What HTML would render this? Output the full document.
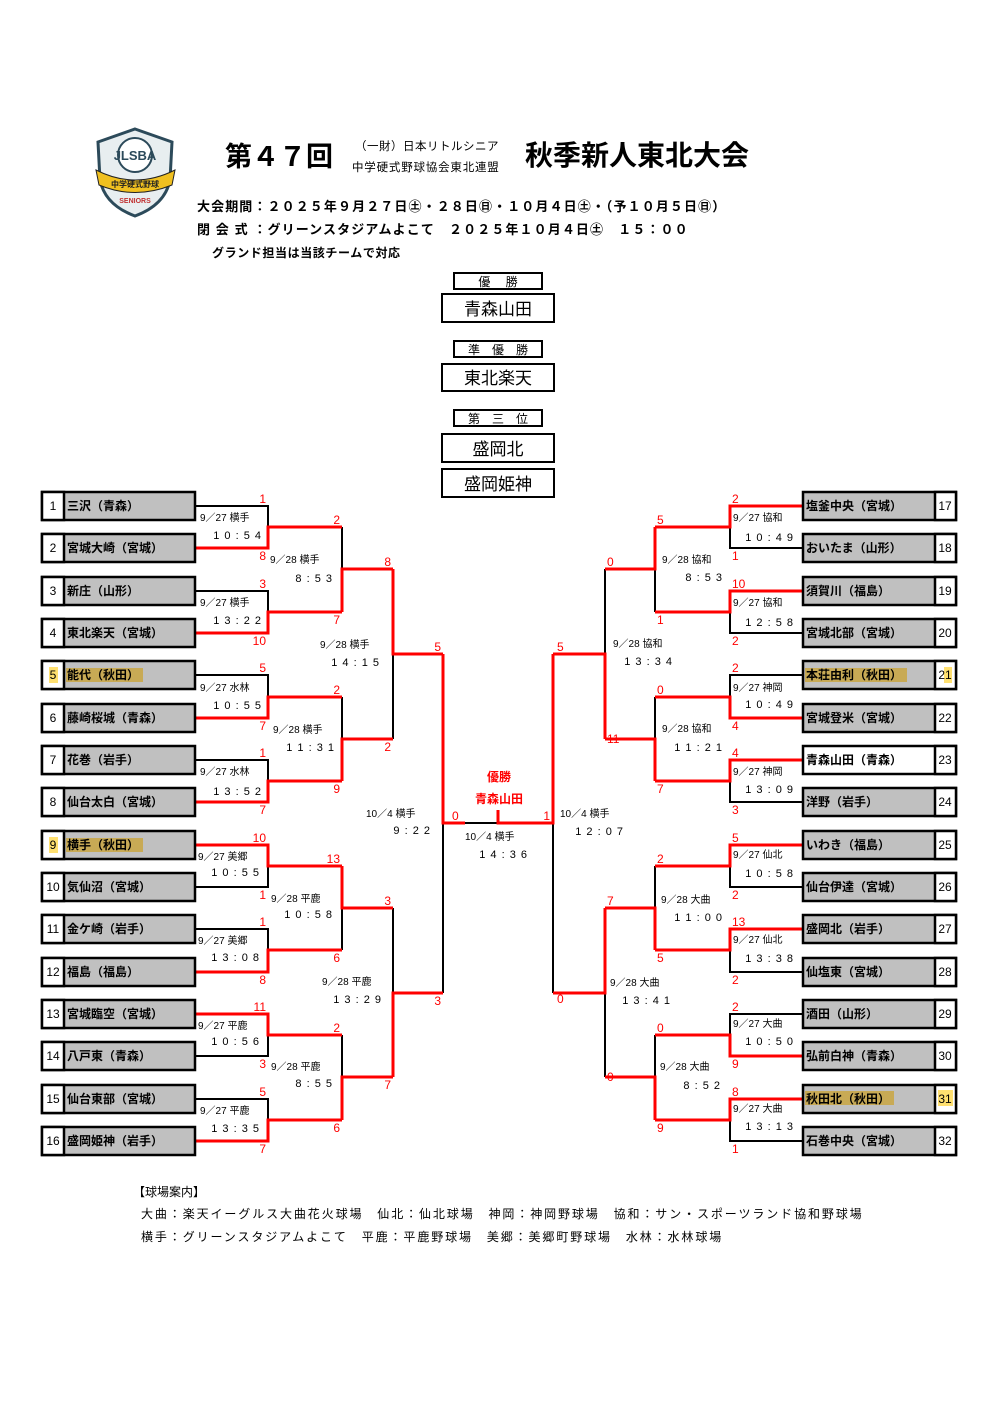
<!DOCTYPE html>
<html><head><meta charset="utf-8">
<style>
html,body{margin:0;padding:0;background:#fff;}
svg{display:block;}
text{font-family:"Liberation Sans","Noto Sans CJK JP",sans-serif;}
.tn{font-size:12px;font-weight:bold;fill:#000;}
.nm{font-size:12px;fill:#000;}
.sc{font-size:12px;fill:#ff0000;}
.dt{font-size:10px;fill:#000;}
.tm{font-size:11px;fill:#000;letter-spacing:1px;}
.bk{fill:none;stroke:#000;stroke-width:2;}
.rd{fill:none;stroke:#ff0000;stroke-width:3;}
</style></head><body>
<svg width="1000" height="1413" viewBox="0 0 1000 1413" xmlns="http://www.w3.org/2000/svg">
<rect width="1000" height="1413" fill="#fff"/>
<!-- logo -->
<g>
<path d="M135 129 L172 142 L170 180 Q165 205 135 216 Q105 205 100 180 L98 142 Z" fill="#e8eef0" stroke="#2c4a5a" stroke-width="3"/>
<circle cx="135" cy="155" r="17" fill="#fff" stroke="#2c4a5a" stroke-width="2"/>
<text x="135" y="160" font-size="13" font-weight="bold" text-anchor="middle" fill="#2c4a5a">JLSBA</text>
<path d="M96 170 Q135 190 175 170 L172 185 Q135 200 99 185 Z" fill="#f0c020" stroke="#222" stroke-width="1"/>
<text x="135" y="187" font-size="8" font-weight="bold" text-anchor="middle" fill="#222">中学硬式野球</text>
<text x="135" y="203" font-size="7" font-weight="bold" text-anchor="middle" fill="#c03030">SENIORS</text>
</g>
<text x="225" y="166" font-size="27" font-weight="bold">第４７回</text>
<text x="355" y="150" font-size="11.5" letter-spacing="0.5">（一財）日本リトルシニア</text>
<text x="352" y="171" font-size="11.5" letter-spacing="0.8">中学硬式野球協会東北連盟</text>
<text x="525" y="165" font-size="28" font-weight="bold">秋季新人東北大会</text>
<text x="197" y="211" font-size="13" font-weight="bold" letter-spacing="1.1">大会期間：２０２５年９月２７日㊏・２８日㊐・１０月４日㊏・（予１０月５日㊐）</text>
<text x="197" y="234" font-size="13" font-weight="bold" letter-spacing="1.1">閉 会 式 ：グリーンスタジアムよこて　２０２５年１０月４日㊏　１５：００</text>
<text x="212" y="257" font-size="12" font-weight="bold" letter-spacing="0.6">グランド担当は当該チームで対応</text>

<!-- result boxes -->
<g fill="#fff" stroke="#000" stroke-width="2">
<rect x="454" y="273" width="88" height="16"/>
<rect x="442" y="294" width="112" height="28"/>
<rect x="454" y="341" width="88" height="16"/>
<rect x="442" y="364" width="112" height="27"/>
<rect x="454" y="410" width="88" height="16"/>
<rect x="442" y="434" width="112" height="28"/>
<rect x="442" y="469" width="112" height="28"/>
</g>
<g text-anchor="middle">
<text x="498" y="286" font-size="12">優　 勝</text>
<text x="498" y="315" font-size="17">青森山田</text>
<text x="498" y="354" font-size="12">準　優　勝</text>
<text x="498" y="384" font-size="17">東北楽天</text>
<text x="498" y="423" font-size="12">第　三　位</text>
<text x="498" y="455" font-size="17">盛岡北</text>
<text x="498" y="490" font-size="17">盛岡姫神</text>
</g>

<!-- black bracket lines -->
<path class="bk" d="
M195 506 H268 V548 H195 M268 527 H342
M195 591 H268 V633 H195 M268 612 H342
M195 675 H268 V718 H195 M268 697 H342
M195 760 H268 V802 H195 M268 781 H342
M195 845 H268 V887 H195 M268 866 H342
M195 929 H268 V972 H195 M268 950 H342
M195 1014 H268 V1056 H195 M268 1035 H342
M195 1099 H268 V1141 H195 M268 1120 H342
M342 527 V612 M342 569 H393
M342 697 V781 M342 739 H393
M342 866 V950 M342 908 H393
M342 1035 V1120 M342 1077 H393
M393 569 V739 M393 654 H443
M393 908 V1077 M393 993 H443
M443 654 V993 M553 654 V993 M443 823 H553
M803 506 H730 V548 H803 M730 527 H655
M803 591 H730 V633 H803 M730 612 H655
M803 675 H730 V718 H803 M730 697 H655
M803 760 H730 V802 H803 M730 781 H655
M803 845 H730 V887 H803 M730 866 H655
M803 929 H730 V972 H803 M730 950 H655
M803 1014 H730 V1056 H803 M730 1035 H655
M803 1099 H730 V1141 H803 M730 1120 H655
M655 527 V612 M655 569 H605
M655 697 V781 M655 739 H605
M655 866 V950 M655 908 H605
M655 1035 V1120 M655 1077 H605
M605 569 V739 M605 654 H553
M605 908 V1077 M605 993 H553
"/>
<!-- red winner paths -->
<path class="rd" d="
M195 548 H268 V527 H342
M195 633 H268 V612 H342
M195 718 H268 V697 H342
M195 802 H268 V781 H342
M195 845 H268 V866 H342
M195 972 H268 V950 H342
M195 1014 H268 V1035 H342
M195 1141 H268 V1120 H342
M342 612 V569 H393
M342 781 V739 H393
M342 866 V908 H393
M342 1120 V1077 H393
M393 569 V654 H443
M393 1077 V993 H443
M443 654 V823 H465
M803 506 H730 V527 H655
M803 591 H730 V612 H655
M803 718 H730 V697 H655
M803 760 H730 V781 H655
M803 845 H730 V866 H655
M803 929 H730 V950 H655
M803 1056 H730 V1035 H655
M803 1099 H730 V1120 H655
M655 527 V569 H605
M655 781 V739 H605
M655 950 V908 H605
M655 1120 V1077 H605
M605 739 V654 H553
M605 908 V993 H553
M553 654 V823 H498 V810
"/>

<!-- team boxes -->
<g stroke="#000" stroke-width="2.5">
<g fill="#c0c0c0">
<rect x="42" y="492" width="153" height="28"/><rect x="42" y="534" width="153" height="28"/>
<rect x="42" y="577" width="153" height="28"/><rect x="42" y="619" width="153" height="28"/>
<rect x="42" y="661" width="153" height="28"/><rect x="42" y="704" width="153" height="28"/>
<rect x="42" y="746" width="153" height="28"/><rect x="42" y="788" width="153" height="28"/>
<rect x="42" y="831" width="153" height="28"/><rect x="42" y="873" width="153" height="28"/>
<rect x="42" y="915" width="153" height="28"/><rect x="42" y="958" width="153" height="28"/>
<rect x="42" y="1000" width="153" height="28"/><rect x="42" y="1042" width="153" height="28"/>
<rect x="42" y="1085" width="153" height="28"/><rect x="42" y="1127" width="153" height="28"/>
<rect x="803" y="492" width="153" height="28"/><rect x="803" y="534" width="153" height="28"/>
<rect x="803" y="577" width="153" height="28"/><rect x="803" y="619" width="153" height="28"/>
<rect x="803" y="661" width="153" height="28"/><rect x="803" y="704" width="153" height="28"/>
<rect x="803" y="746" width="153" height="28" fill="#fff"/><rect x="803" y="788" width="153" height="28"/>
<rect x="803" y="831" width="153" height="28"/><rect x="803" y="873" width="153" height="28"/>
<rect x="803" y="915" width="153" height="28"/><rect x="803" y="958" width="153" height="28"/>
<rect x="803" y="1000" width="153" height="28"/><rect x="803" y="1042" width="153" height="28"/>
<rect x="803" y="1085" width="153" height="28"/><rect x="803" y="1127" width="153" height="28"/>
</g>
<g fill="#fff">
<rect x="42" y="492" width="22" height="28"/><rect x="42" y="534" width="22" height="28"/>
<rect x="42" y="577" width="22" height="28"/><rect x="42" y="619" width="22" height="28"/>
<rect x="42" y="661" width="22" height="28"/><rect x="42" y="704" width="22" height="28"/>
<rect x="42" y="746" width="22" height="28"/><rect x="42" y="788" width="22" height="28"/>
<rect x="42" y="831" width="22" height="28"/><rect x="42" y="873" width="22" height="28"/>
<rect x="42" y="915" width="22" height="28"/><rect x="42" y="958" width="22" height="28"/>
<rect x="42" y="1000" width="22" height="28"/><rect x="42" y="1042" width="22" height="28"/>
<rect x="42" y="1085" width="22" height="28"/><rect x="42" y="1127" width="22" height="28"/>
<rect x="935" y="492" width="21" height="28"/><rect x="935" y="534" width="21" height="28"/>
<rect x="935" y="577" width="21" height="28"/><rect x="935" y="619" width="21" height="28"/>
<rect x="935" y="661" width="21" height="28"/><rect x="935" y="704" width="21" height="28"/>
<rect x="935" y="746" width="21" height="28"/><rect x="935" y="788" width="21" height="28"/>
<rect x="935" y="831" width="21" height="28"/><rect x="935" y="873" width="21" height="28"/>
<rect x="935" y="915" width="21" height="28"/><rect x="935" y="958" width="21" height="28"/>
<rect x="935" y="1000" width="21" height="28"/><rect x="935" y="1042" width="21" height="28"/>
<rect x="935" y="1085" width="21" height="28"/><rect x="935" y="1127" width="21" height="28"/>
</g>
</g>
<!-- highlights -->
<g>
<rect x="66" y="668" width="77" height="14" fill="#c8aa55"/><rect x="49" y="667" width="9" height="16" fill="#ffe070"/>
<rect x="66" y="838" width="77" height="14" fill="#c8aa55"/><rect x="49" y="837" width="9" height="16" fill="#ffe070"/>
<rect x="805" y="668" width="102" height="14" fill="#c8aa55"/><rect x="944" y="667" width="8" height="16" fill="#ffe070"/>
<rect x="805" y="1091" width="89" height="14" fill="#c8aa55"/><rect x="938" y="1090" width="15" height="16" fill="#ffe070"/>
</g>
<!-- numbers -->
<g class="nm" text-anchor="middle">
<text x="53" y="510">1</text><text x="53" y="552">2</text><text x="53" y="595">3</text><text x="53" y="637">4</text>
<text x="53" y="679">5</text><text x="53" y="722">6</text><text x="53" y="764">7</text><text x="53" y="806">8</text>
<text x="53" y="849">9</text><text x="53" y="891">10</text><text x="53" y="933">11</text><text x="53" y="976">12</text>
<text x="53" y="1018">13</text><text x="53" y="1060">14</text><text x="53" y="1103">15</text><text x="53" y="1145">16</text>
<text x="945" y="510">17</text><text x="945" y="552">18</text><text x="945" y="595">19</text><text x="945" y="637">20</text>
<text x="945" y="679">21</text><text x="945" y="722">22</text><text x="945" y="764">23</text><text x="945" y="806">24</text>
<text x="945" y="849">25</text><text x="945" y="891">26</text><text x="945" y="933">27</text><text x="945" y="976">28</text>
<text x="945" y="1018">29</text><text x="945" y="1060">30</text><text x="945" y="1103">31</text><text x="945" y="1145">32</text>
</g>
<g class="tn">
<text x="67" y="510">三沢（青森）</text><text x="67" y="552">宮城大崎（宮城）</text>
<text x="67" y="595">新庄（山形）</text><text x="67" y="637">東北楽天（宮城）</text>
<text x="67" y="679">能代（秋田）</text><text x="67" y="722">藤崎桜城（青森）</text>
<text x="67" y="764">花巻（岩手）</text><text x="67" y="806">仙台太白（宮城）</text>
<text x="67" y="849">横手（秋田）</text><text x="67" y="891">気仙沼（宮城）</text>
<text x="67" y="933">金ケ崎（岩手）</text><text x="67" y="976">福島（福島）</text>
<text x="67" y="1018">宮城臨空（宮城）</text><text x="67" y="1060">八戸東（青森）</text>
<text x="67" y="1103">仙台東部（宮城）</text><text x="67" y="1145">盛岡姫神（岩手）</text>
<text x="806" y="510">塩釜中央（宮城）</text><text x="806" y="552">おいたま（山形）</text>
<text x="806" y="595">須賀川（福島）</text><text x="806" y="637">宮城北部（宮城）</text>
<text x="806" y="679">本荘由利（秋田）</text><text x="806" y="722">宮城登米（宮城）</text>
<text x="806" y="764">青森山田（青森）</text><text x="806" y="806">洋野（岩手）</text>
<text x="806" y="849">いわき（福島）</text><text x="806" y="891">仙台伊達（宮城）</text>
<text x="806" y="933">盛岡北（岩手）</text><text x="806" y="976">仙塩東（宮城）</text>
<text x="806" y="1018">酒田（山形）</text><text x="806" y="1060">弘前白神（青森）</text>
<text x="806" y="1103">秋田北（秋田）</text><text x="806" y="1145">石巻中央（宮城）</text>
</g>

<!-- scores -->
<g class="sc" text-anchor="end">
<text x="266" y="503">1</text><text x="266" y="560">8</text>
<text x="266" y="588">3</text><text x="266" y="645">10</text>
<text x="266" y="672">5</text><text x="266" y="730">7</text>
<text x="266" y="757">1</text><text x="266" y="814">7</text>
<text x="266" y="842">10</text><text x="266" y="899">1</text>
<text x="266" y="926">1</text><text x="266" y="984">8</text>
<text x="266" y="1011">11</text><text x="266" y="1068">3</text>
<text x="266" y="1096">5</text><text x="266" y="1153">7</text>
<text x="340" y="524">2</text><text x="340" y="624">7</text>
<text x="340" y="694">2</text><text x="340" y="793">9</text>
<text x="340" y="863">13</text><text x="340" y="962">6</text>
<text x="340" y="1032">2</text><text x="340" y="1132">6</text>
<text x="391" y="566">8</text><text x="391" y="751">2</text>
<text x="391" y="905">3</text><text x="391" y="1089">7</text>
<text x="441" y="651">5</text><text x="441" y="1005">3</text>
<text x="550" y="820">1</text>
</g>
<g class="sc">
<text x="452" y="820">0</text>
<text x="732" y="503">2</text><text x="732" y="560">1</text>
<text x="732" y="588">10</text><text x="732" y="645">2</text>
<text x="732" y="672">2</text><text x="732" y="730">4</text>
<text x="732" y="757">4</text><text x="732" y="814">3</text>
<text x="732" y="842">5</text><text x="732" y="899">2</text>
<text x="732" y="926">13</text><text x="732" y="984">2</text>
<text x="732" y="1011">2</text><text x="732" y="1068">9</text>
<text x="732" y="1096">8</text><text x="732" y="1153">1</text>
<text x="657" y="524">5</text><text x="657" y="624">1</text>
<text x="657" y="694">0</text><text x="657" y="793">7</text>
<text x="657" y="863">2</text><text x="657" y="962">5</text>
<text x="657" y="1032">0</text><text x="657" y="1132">9</text>
<text x="607" y="566">0</text><text x="607" y="743">11</text>
<text x="607" y="905">7</text><text x="607" y="1081">0</text>
<text x="557" y="651">5</text><text x="557" y="1003">0</text>
</g>
<text x="499" y="781" font-size="12" font-weight="bold" fill="#ff0000" text-anchor="middle">優勝</text>
<text x="499" y="803" font-size="12" font-weight="bold" fill="#ff0000" text-anchor="middle">青森山田</text>

<!-- dates -->
<g class="dt">
<text x="200" y="521">9／27 横手</text><text x="200" y="606">9／27 横手</text>
<text x="200" y="691">9／27 水林</text><text x="200" y="775">9／27 水林</text>
<text x="198" y="860">9／27 美郷</text><text x="198" y="944">9／27 美郷</text>
<text x="198" y="1029">9／27 平鹿</text><text x="200" y="1114">9／27 平鹿</text>
<text x="270" y="563">9／28 横手</text><text x="273" y="733">9／28 横手</text>
<text x="271" y="902">9／28 平鹿</text><text x="271" y="1070">9／28 平鹿</text>
<text x="320" y="648">9／28 横手</text><text x="322" y="985">9／28 平鹿</text>
<text x="366" y="817">10／4 横手</text>
<text x="733" y="521">9／27 協和</text><text x="733" y="606">9／27 協和</text>
<text x="733" y="691">9／27 神岡</text><text x="733" y="775">9／27 神岡</text>
<text x="733" y="858">9／27 仙北</text><text x="733" y="943">9／27 仙北</text>
<text x="733" y="1027">9／27 大曲</text><text x="733" y="1112">9／27 大曲</text>
<text x="662" y="563">9／28 協和</text><text x="662" y="732">9／28 協和</text>
<text x="661" y="903">9／28 大曲</text><text x="660" y="1070">9／28 大曲</text>
<text x="613" y="647">9／28 協和</text><text x="610" y="986">9／28 大曲</text>
<text x="560" y="817">10／4 横手</text>
<text x="465" y="840">10／4 横手</text>
</g>
<g class="tm" text-anchor="end">
<text x="262" y="539">1 0 : 5 4</text><text x="262" y="624">1 3 : 2 2</text>
<text x="262" y="709">1 0 : 5 5</text><text x="262" y="795">1 3 : 5 2</text>
<text x="260" y="876">1 0 : 5 5</text><text x="260" y="961">1 3 : 0 8</text>
<text x="260" y="1045">1 0 : 5 6</text><text x="260" y="1132">1 3 : 3 5</text>
<text x="333" y="582">8 : 5 3</text><text x="335" y="751">1 1 : 3 1</text>
<text x="333" y="918">1 0 : 5 8</text><text x="333" y="1087">8 : 5 5</text>
<text x="380" y="666">1 4 : 1 5</text><text x="382" y="1003">1 3 : 2 9</text>
<text x="431" y="834">9 : 2 2</text>
<text x="794" y="541">1 0 : 4 9</text><text x="794" y="626">1 2 : 5 8</text>
<text x="794" y="708">1 0 : 4 9</text><text x="794" y="793">1 3 : 0 9</text>
<text x="794" y="877">1 0 : 5 8</text><text x="794" y="962">1 3 : 3 8</text>
<text x="794" y="1045">1 0 : 5 0</text><text x="794" y="1130">1 3 : 1 3</text>
<text x="723" y="581">8 : 5 3</text><text x="723" y="751">1 1 : 2 1</text>
<text x="723" y="921">1 1 : 0 0</text><text x="721" y="1089">8 : 5 2</text>
<text x="673" y="665">1 3 : 3 4</text><text x="671" y="1004">1 3 : 4 1</text>
<text x="624" y="835">1 2 : 0 7</text>
<text x="528" y="858">1 4 : 3 6</text>
</g>

<!-- footer -->
<text x="133" y="1196" font-size="12">【球場案内】</text>
<text x="141" y="1218" font-size="12" letter-spacing="1.9">大曲：楽天イーグルス大曲花火球場　仙北：仙北球場　神岡：神岡野球場　協和：サン・スポーツランド協和野球場</text>
<text x="141" y="1241" font-size="12" letter-spacing="1.9">横手：グリーンスタジアムよこて　平鹿：平鹿野球場　美郷：美郷町野球場　水林：水林球場</text>
</svg>
</body></html>
